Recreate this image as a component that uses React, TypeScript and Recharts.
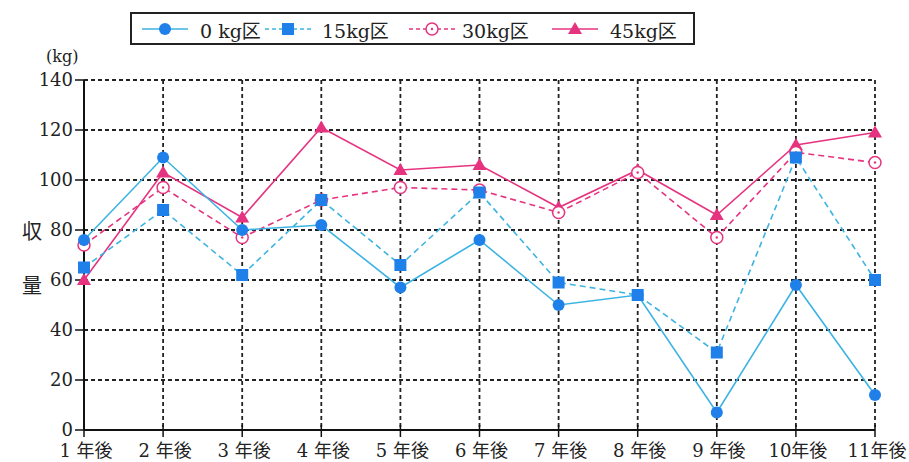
import { LineChart, Line, XAxis, YAxis, CartesianGrid } from 'recharts';

const years = ['1 年後', '2 年後', '3 年後', '4 年後', '5 年後', '6 年後', '7 年後', '8 年後', '9 年後', '10年後', '11年後'];
const kg0 = [76, 109, 80, 82, 57, 76, 50, 54, 7, 58, 14];
const kg15 = [65, 88, 62, 92, 66, 95, 59, 54, 31, 109, 60];
const kg30 = [74, 97, 77, 92, 97, 96, 87, 103, 77, 111, 107];
const kg45 = [60, 103, 85, 121, 104, 106, 89, 104, 86, 114, 119];
const yTicks = [0, 20, 40, 60, 80, 100, 120, 140];

const data = years.map((year, i) => ({
  year,
  kg0: kg0[i],
  kg15: kg15[i],
  kg30: kg30[i],
  kg45: kg45[i],
}));

const CYAN = '#3db3e3';
const BLUE = '#1f80ea';
const PINK = '#e6337f';
const SERIF = "'DejaVu Serif', 'Noto Sans CJK JP', serif";

const CircleDot = (props: any) => {
  const { cx, cy, key } = props;
  if (cx == null || cy == null) return null;
  return <circle key={key} cx={cx} cy={cy} r={6} fill={BLUE} />;
};

const SquareDot = (props: any) => {
  const { cx, cy, key } = props;
  if (cx == null || cy == null) return null;
  return <rect key={key} x={cx - 6} y={cy - 6} width={12} height={12} fill={BLUE} />;
};

const OpenDot = (props: any) => {
  const { cx, cy, key } = props;
  if (cx == null || cy == null) return null;
  return (
    <g key={key}>
      <circle cx={cx} cy={cy} r={6} fill="#fff" stroke={PINK} strokeWidth={1.5} />
      <circle cx={cx} cy={cy} r={1.2} fill={PINK} />
    </g>
  );
};

const TriDot = (props: any) => {
  const { cx, cy, key } = props;
  if (cx == null || cy == null) return null;
  return <path key={key} d={`M${cx},${cy - 7} L${cx + 7},${cy + 5} L${cx - 7},${cy + 5} Z`} fill={PINK} />;
};

// x-axis tick mark that crosses the axis line like the original
const XTick = (props: any) => {
  const { x, y, payload } = props;
  return (
    <g>
      <line x1={x} y1={y - 13} x2={x} y2={y - 1} stroke="#111" strokeWidth={1.5} />
      <text x={x + 2} y={y + 19} textAnchor="middle" fill="#222" fontSize={18} fontFamily={SERIF}>
        {payload.value}
      </text>
    </g>
  );
};

const legendItems = [
  { label: '0 kg区', color: CYAN, dash: undefined, marker: 'circle', left: 10, textLeft: 68 },
  { label: '15kg区', color: CYAN, dash: '4 3', marker: 'square', left: 133, textLeft: 190 },
  { label: '30kg区', color: PINK, dash: '4 3', marker: 'open', left: 277, textLeft: 330 },
  { label: '45kg区', color: PINK, dash: undefined, marker: 'tri', left: 420, textLeft: 478 },
];

const LegendMarker = ({ marker }: { marker: string }) => {
  const p = { cx: 23, cy: 10 };
  if (marker === 'circle') return <CircleDot {...p} />;
  if (marker === 'square') return <SquareDot {...p} />;
  if (marker === 'open') return <OpenDot {...p} />;
  return <TriDot {...p} />;
};

const ChartLegend = () => (
  <div
    style={{
      position: 'absolute',
      left: 130,
      top: 12,
      width: 561,
      height: 29,
      border: '2px solid #222',
      background: '#fff',
    }}
  >
    {legendItems.map((it) => (
      <div key={it.label}>
        <svg width={48} height={20} style={{ position: 'absolute', left: it.left, top: 5 }}>
          <line x1={0} y1={10} x2={46} y2={10} stroke={it.color} strokeWidth={1.6} strokeDasharray={it.dash} />
          <LegendMarker marker={it.marker} />
        </svg>
        <span
          style={{
            position: 'absolute',
            left: it.textLeft,
            top: 2,
            fontFamily: SERIF,
            fontSize: 19,
            color: '#222',
            whiteSpace: 'pre',
          }}
        >
          {it.label}
        </span>
      </div>
    ))}
  </div>
);

const App = () => {
  return (
    <div style={{ position: 'absolute', left: 0, top: 0, width: 909, height: 462, background: '#fff' }}>
      <LineChart
        width={909}
        height={462}
        data={data}
        margin={{ top: 80, right: 34, bottom: 2, left: 24 }}
      >
        <CartesianGrid stroke="#222" strokeWidth={1.8} strokeDasharray="4 3" />
        <XAxis
          dataKey="year"
          height={30}
          axisLine={{ stroke: '#111', strokeWidth: 2 }}
          tickLine={false}
          tickSize={6}
          interval={0}
          tick={XTick}
        />
        <YAxis
          width={60}
          domain={[0, 140]}
          ticks={yTicks}
          interval={0}
          axisLine={{ stroke: '#111', strokeWidth: 2 }}
          tickLine={{ stroke: '#111', strokeWidth: 1.5 }}
          tickSize={9}
          tickMargin={2}
          tick={{ fill: '#222', fontSize: 18, fontFamily: SERIF }}
        />
        <Line dataKey="kg45" stroke={PINK} strokeWidth={1.6} dot={TriDot} activeDot={false} isAnimationActive={false} />
        <Line dataKey="kg30" stroke={PINK} strokeWidth={1.6} strokeDasharray="6 4" dot={OpenDot} activeDot={false} isAnimationActive={false} />
        <Line dataKey="kg15" stroke={CYAN} strokeWidth={1.6} strokeDasharray="6 4" dot={SquareDot} activeDot={false} isAnimationActive={false} />
        <Line dataKey="kg0" stroke={CYAN} strokeWidth={1.6} dot={CircleDot} activeDot={false} isAnimationActive={false} />
      </LineChart>
      <ChartLegend />
      <div style={{ position: 'absolute', left: 46, top: 47, fontFamily: SERIF, fontSize: 16, color: '#222', whiteSpace: 'pre' }}>(kg)</div>
      <div style={{ position: 'absolute', left: 22, top: 216, fontFamily: "'Noto Sans CJK JP'", fontSize: 20, color: '#222' }}>収</div>
      <div style={{ position: 'absolute', left: 22, top: 270, fontFamily: "'Noto Sans CJK JP'", fontSize: 20, color: '#222' }}>量</div>
    </div>
  );
};

export default App;
